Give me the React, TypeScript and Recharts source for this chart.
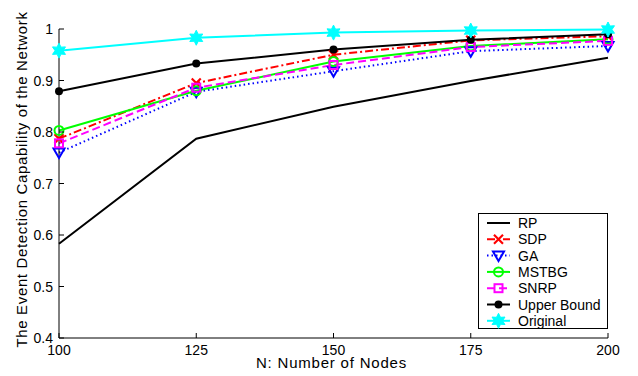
import { LineChart, Line, XAxis, YAxis } from 'recharts';

const nodes = [100, 125, 150, 175, 200];
const rp = [0.583, 0.787, 0.849, 0.899, 0.944];
const sdp = [0.787, 0.895, 0.95, 0.978, 0.986];
const ga = [0.76, 0.878, 0.918, 0.957, 0.967];
const mstbg = [0.803, 0.88, 0.937, 0.967, 0.98];
const snrp = [0.778, 0.886, 0.93, 0.965, 0.977];
const upperBound = [0.879, 0.933, 0.96, 0.979, 0.99];
const original = [0.958, 0.983, 0.993, 0.997, 0.999];
const yTicks = [0.4, 0.5, 0.6, 0.7, 0.8, 0.9, 1];

const data = nodes.map((n, i) => ({
  n,
  RP: rp[i],
  SDP: sdp[i],
  GA: ga[i],
  MSTBG: mstbg[i],
  SNRP: snrp[i],
  Upper: upperBound[i],
  Original: original[i],
}));

const FONT = '"Liberation Sans", Arial, Helvetica, sans-serif';

type Shape = 'none' | 'x' | 'tri' | 'circle' | 'square' | 'dot' | 'star';

function Marker({ shape, cx, cy, color }: { shape: Shape; cx: number; cy: number; color: string }) {
  switch (shape) {
    case 'x':
      return (
        <g stroke={color} strokeWidth={2.2}>
          <line x1={cx - 4.5} y1={cy - 4.5} x2={cx + 4.5} y2={cy + 4.5} />
          <line x1={cx - 4.5} y1={cy + 4.5} x2={cx + 4.5} y2={cy - 4.5} />
        </g>
      );
    case 'tri':
      return (
        <polygon
          points={`${cx - 5.5},${cy - 4} ${cx + 5.5},${cy - 4} ${cx},${cy + 5.5}`}
          fill="none"
          stroke={color}
          strokeWidth={2}
        />
      );
    case 'circle':
      return <circle cx={cx} cy={cy} r={4.5} fill="none" stroke={color} strokeWidth={2} />;
    case 'square':
      return <rect x={cx - 4} y={cy - 4} width={8} height={8} fill="none" stroke={color} strokeWidth={2} />;
    case 'dot':
      return <circle cx={cx} cy={cy} r={4} fill={color} />;
    case 'star': {
      const pts: string[] = [];
      for (let k = 0; k < 12; k++) {
        const r = k % 2 === 0 ? 7.5 : 4;
        const a = (Math.PI / 6) * k - Math.PI / 2;
        pts.push(`${cx + r * Math.cos(a)},${cy + r * Math.sin(a)}`);
      }
      return <polygon points={pts.join(' ')} fill={color} stroke={color} strokeWidth={1} />;
    }
    default:
      return null;
  }
}

const series: { key: string; name: string; color: string; dash?: string; shape: Shape }[] = [
  { key: 'RP', name: 'RP', color: '#000000', shape: 'none' },
  { key: 'SDP', name: 'SDP', color: '#ff0000', dash: '8 3 2 3', shape: 'x' },
  { key: 'GA', name: 'GA', color: '#0000ff', dash: '1.5 3', shape: 'tri' },
  { key: 'MSTBG', name: 'MSTBG', color: '#00ff00', shape: 'circle' },
  { key: 'SNRP', name: 'SNRP', color: '#ff00ff', dash: '8 4', shape: 'square' },
  { key: 'Upper', name: 'Upper Bound', color: '#000000', shape: 'dot' },
  { key: 'Original', name: 'Original', color: '#00ffff', shape: 'star' },
];

function XTick(props: any) {
  const { x, y, payload } = props;
  return (
    <g>
      <line x1={x} y1={y} x2={x} y2={y - 5} stroke="#000" />
      <text x={x} y={y + 16.5} textAnchor="middle" fontSize={14} fontFamily={FONT} fill="#000">
        {payload.value}
      </text>
    </g>
  );
}

function YTick(props: any) {
  const { x, y, payload } = props;
  const v = payload.value as number;
  return (
    <g>
      <line x1={x} y1={y} x2={x + 5} y2={y} stroke="#000" />
      <text x={x - 6} y={y + 5} textAnchor="end" fontSize={14} fontFamily={FONT} fill="#000">
        {v === 1 ? '1' : v.toFixed(1)}
      </text>
    </g>
  );
}

function LegendBox() {
  return (
    <svg
      width={130}
      height={116}
      style={{ position: 'absolute', left: 478, top: 213 }}
    >
      <rect x={0.5} y={0.5} width={129} height={115} fill="#fff" stroke="#000" />
      {series.map((s, i) => {
        const cy = 10 + i * 16.3;
        return (
          <g key={s.key}>
            <line x1={9} y1={cy} x2={32} y2={cy} stroke={s.color} strokeWidth={2} strokeDasharray={s.dash} />
            <Marker shape={s.shape} cx={20.5} cy={cy} color={s.color} />
            <text x={40} y={cy + 5} fontSize={14} fontFamily={FONT} fill="#000">
              {s.name}
            </text>
          </g>
        );
      })}
    </svg>
  );
}

export default function App() {
  return (
    <div style={{ position: 'absolute', left: 0, top: 0, width: 638, height: 376, background: '#fff' }}>
      <LineChart width={638} height={376} data={data} margin={{ top: 29, right: 30, left: 0, bottom: 0 }}>
        <XAxis
          dataKey="n"
          type="number"
          domain={[100, 200]}
          ticks={nodes}
          height={38}
          stroke="#000"
          tickLine={false}
          tickSize={0}
          tickMargin={0}
          tick={<XTick />}
          label={{
            content: (p: any) => (
              <text
                x={p.viewBox.x + p.viewBox.width / 2 - 2}
                y={p.viewBox.y + 30}
                textAnchor="middle"
                fontSize={15}
                letterSpacing={0.8}
                fontFamily={FONT}
                fill="#000"
              >
                N: Number of Nodes
              </text>
            ),
          }}
        />
        <YAxis
          type="number"
          domain={[0.4, 1]}
          ticks={yTicks}
          width={59}
          stroke="#000"
          tickLine={false}
          tickSize={0}
          tickMargin={0}
          tick={<YTick />}
          label={{
            content: (p: any) => {
              const cx = 21;
              const cy = p.viewBox.y + p.viewBox.height / 2 - 4;
              return (
                <text
                  x={cx}
                  y={cy}
                  transform={`rotate(-90 ${cx} ${cy})`}
                  textAnchor="middle"
                  dominantBaseline="central"
                  fontSize={15}
                  letterSpacing={0.65}
                  fontFamily={FONT}
                  fill="#000"
                >
                  The Event Detection Capability of the Network
                </text>
              );
            },
          }}
        />
        {series.map((s) => (
          <Line
            key={s.key}
            dataKey={s.key}
            name={s.name}
            type="linear"
            stroke={s.color}
            strokeWidth={2}
            strokeDasharray={s.dash}
            isAnimationActive={false}
            dot={(p: any) => <Marker key={`${s.key}-${p.index}`} shape={s.shape} cx={p.cx} cy={p.cy} color={s.color} />}
            activeDot={false}
          />
        ))}
      </LineChart>
      <LegendBox />
    </div>
  );
}
